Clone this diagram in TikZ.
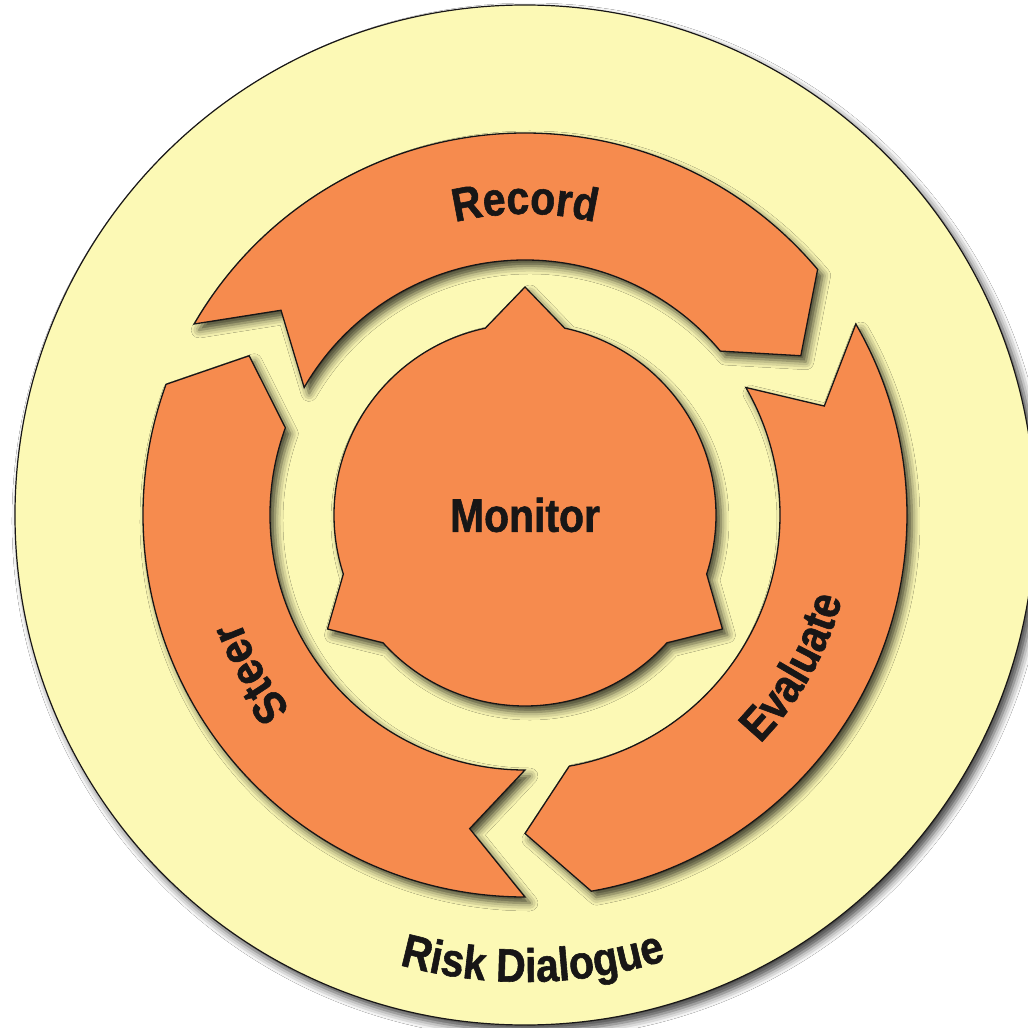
\documentclass[tikz,border=0pt]{standalone}
\usepackage{fontspec}
\newfontfamily\lblfont[FakeStretch=0.87,FakeBold=1.2]{Liberation Sans}
\usetikzlibrary{decorations.text,shadows.blur}
\definecolor{ringorange}{RGB}{246,139,78}
\definecolor{paleyellow}{RGB}{252,249,181}
\definecolor{inkcol}{RGB}{24,22,22}
\newcommand\lbl{\lblfont\bfseries\fontsize{47}{56}\selectfont\color{inkcol}}
\begin{document}
\begin{tikzpicture}[x=1pt,y=1pt,
  softshadow/.style={blur shadow={shadow xshift=5pt, shadow yshift=-6pt, shadow blur radius=8pt, shadow opacity=75}},
  outerdisc/.style={fill=paleyellow, draw=inkcol, line width=1.2pt, softshadow},
  segment/.style={fill=ringorange, draw=inkcol, line width=1.3pt, line join=miter, softshadow},
  curvedlabel/.style={decorate, decoration={text along path, text align=center, text={|\lbl|#1}}}]
\useasboundingbox (-525,-513) rectangle (503,515);
\fill[white] (-525,-513) rectangle (503,515);
% outer disc
\path[outerdisc] (0,0) circle[radius=510];
% Record
\path[segment] (150:382) arc[start angle=150, end angle=40, radius=382] -- (30:318.5) -- (40:255) arc[start angle=40, end angle=150, radius=255] -- (140:318.5) -- cycle;
% Evaluate
\path[segment] (30:382) arc[start angle=30, end angle=-80, radius=382] -- (-90:318.5) -- (-80:255) arc[start angle=-80, end angle=30, radius=255] -- (20:318.5) -- cycle;
% Steer
\path[segment] (-90:382) arc[start angle=-90, end angle=-200, radius=382] -- (-210:318.5) -- (-200:255) arc[start angle=-200, end angle=-90, radius=255] -- (-100:318.5) -- cycle;
% Monitor hub
\path[segment] (102:191) arc[start angle=102, end angle=198, radius=191] -- (210:228) -- (222:191) arc[start angle=222, end angle=318, radius=191] -- (330:228) -- (342:191) arc[start angle=342, end angle=438, radius=191] -- (90:228) -- cycle;
\node[font=\lbl, inner sep=0pt] (monitor) at (0,0) {Monitor};
% curved labels
\path[curvedlabel=Record] (150:301) arc[start angle=150, end angle=30, radius=301];
\path[curvedlabel=Steer] (250:304) arc[start angle=250, end angle=170, radius=304];
\path[curvedlabel=Evaluate] (-70:328) arc[start angle=-70, end angle=11, radius=328];
\path[curvedlabel=Risk Dialogue] (-134:467) arc[start angle=-134, end angle=-44, radius=467];
\end{tikzpicture}
\end{document}
